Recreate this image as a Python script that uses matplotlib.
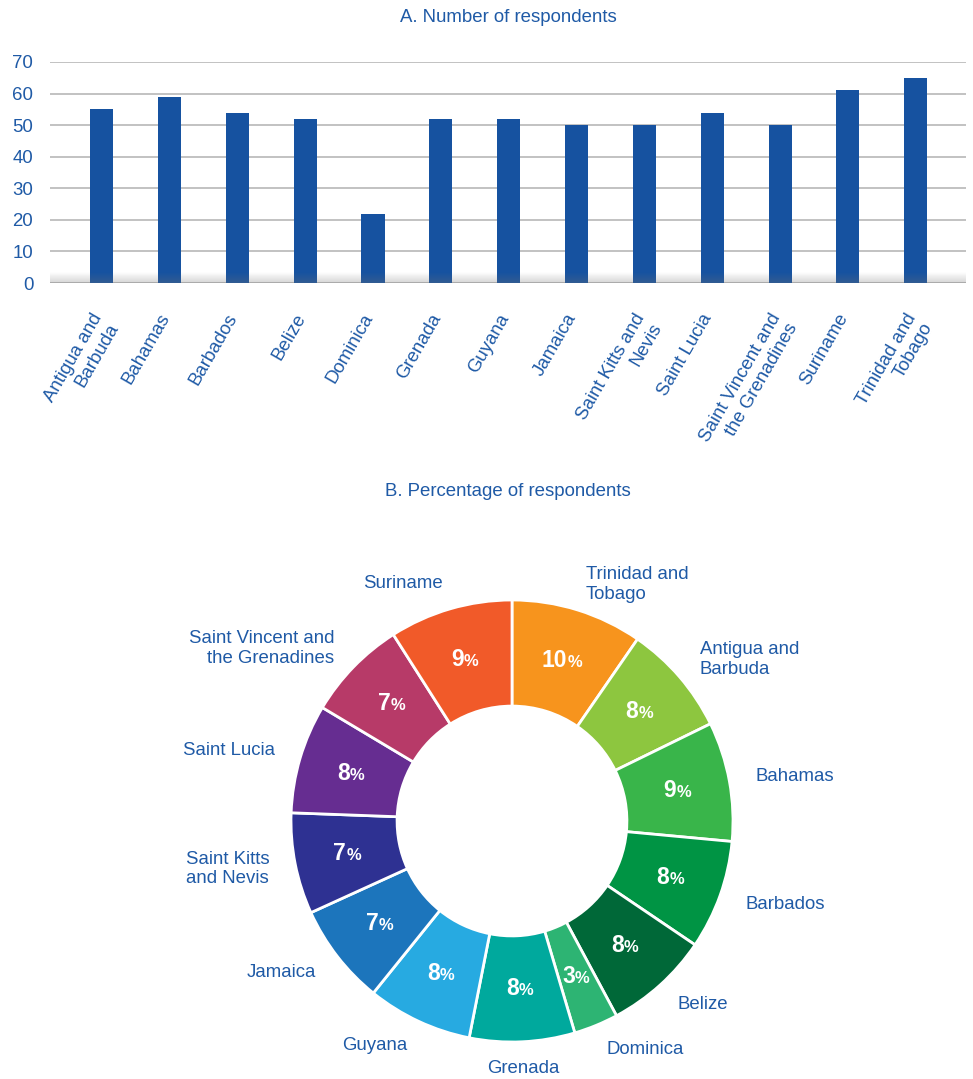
import numpy as np
import matplotlib.pyplot as plt
import matplotlib.transforms as mtransforms
from matplotlib.offsetbox import TextArea, HPacker, AnnotationBbox

plt.rcParams['font.family'] = ['Liberation Sans', 'DejaVu Sans']

# data
countries = ['Antigua and Barbuda', 'Bahamas', 'Barbados', 'Belize', 'Dominica',
             'Grenada', 'Guyana', 'Jamaica', 'Saint Kitts and Nevis', 'Saint Lucia',
             'Saint Vincent and the Grenadines', 'Suriname', 'Trinidad and Tobago']
bar_labels = ['Antigua and\nBarbuda', 'Bahamas', 'Barbados', 'Belize', 'Dominica',
              'Grenada', 'Guyana', 'Jamaica', 'Saint Kitts and\nNevis', 'Saint Lucia',
              'Saint Vincent and\nthe Grenadines', 'Suriname', 'Trinidad and\nTobago']
respondents = [55, 59, 54, 52, 22, 52, 52, 50, 50, 54, 50, 61, 65]
yticks = [0, 10, 20, 30, 40, 50, 60, 70]

# pie goes clockwise from the top, starting with Trinidad and Tobago
pie_order = [12, 0, 1, 2, 3, 4, 5, 6, 7, 8, 9, 10, 11]
pie_labels = ['Trinidad and\nTobago', 'Antigua and\nBarbuda', 'Bahamas', 'Barbados',
              'Belize', 'Dominica', 'Grenada', 'Guyana', 'Jamaica', 'Saint Kitts\nand Nevis',
              'Saint Lucia', 'Saint Vincent and\nthe Grenadines', 'Suriname']
pie_colors = ['#F7941D', '#8DC63F', '#39B54A', '#009444', '#006838', '#2DB473',
              '#00A99D', '#27AAE1', '#1C75BC', '#2E3192', '#662D91', '#B73A68', '#F15A29']

blue_txt = '#1F5AA6'
bar_col = '#1652A0'
fs = 13.4

fig = plt.figure(figsize=(9.73, 10.79), dpi=100)

# ---- A. bar chart ----
W, H = 973, 1079
ax = fig.add_axes([50 / W, 1 - 283 / H, 916 / W, 221 / H])
x = np.arange(len(respondents))
ax.bar(x, respondents, width=0.34, color=bar_col, zorder=3)
ax.set_yticks(yticks)
ax.yaxis.grid(True, color='#B8B8B8', linewidth=1.2, zorder=0)
ax.set_axisbelow(True)
for s in ax.spines.values():
    s.set_visible(False)
ax.tick_params(axis='y', length=0, pad=12, labelsize=fs, labelcolor=blue_txt)
ax.set_xticks(x)
ax.set_xticklabels(bar_labels, rotation=60, ha='right', va='top',
                   rotation_mode='anchor', multialignment='right',
                   fontsize=fs, color=blue_txt)
ax.tick_params(axis='x', length=0, pad=22)
shift = mtransforms.ScaledTranslation(-11 / 100, 3 / 100, fig.dpi_scale_trans)
for lbl in ax.get_xticklabels():
    lbl.set_transform(lbl.get_transform() + shift)

# soft shadow along the base
grad = np.linspace(0.3, 0, 50).reshape(-1, 1)
shade = np.zeros((50, 1, 4))
shade[..., :3] = 0.45
shade[..., 3] = grad
ax.imshow(shade, extent=[-0.76, 12.74, 0, 3.4], origin='lower', aspect='auto', zorder=4)
ax.set_xlim(-0.76, 12.74)
ax.set_ylim(0, 70)

fig.text(508 / W, 1 - 18 / H, 'A. Number of respondents', ha='center', va='center',
         fontsize=fs, color=blue_txt)

# ---- B. donut ----
fig.text(508 / W, 1 - 492 / H, 'B. Percentage of respondents', ha='center', va='center',
         fontsize=fs, color=blue_txt)

R = 221
ax2 = fig.add_axes([(512 - R) / W, 1 - (821 + R) / H, 2 * R / W, 2 * R / H])
pie_vals = [respondents[i] for i in pie_order]
total = sum(pie_vals)
wedges, _ = ax2.pie(pie_vals, colors=pie_colors, startangle=90, counterclock=False,
                    radius=1, wedgeprops=dict(width=0.48, edgecolor='white', linewidth=2))
ax2.set_xlim(-1, 1)
ax2.set_ylim(-1, 1)
ax2.set_aspect('equal')
ax2.axis('off')

for w, lab, v in zip(wedges, pie_labels, pie_vals):
    ang = np.deg2rad((w.theta1 + w.theta2) / 2)
    cx, cy = np.cos(ang), np.sin(ang)
    # percent inside ring
    pct = int(round(v / total * 100))
    num = TextArea(str(pct), textprops=dict(color='white', fontsize=16.5, fontweight='bold'))
    sign = TextArea('%', textprops=dict(color='white', fontsize=12, fontweight='bold'))
    pack = HPacker(children=[num, sign], align='baseline', pad=0, sep=0)
    ab = AnnotationBbox(pack, (0.76 * cx, 0.76 * cy), frameon=False, box_alignment=(0.5, 0.5))
    ax2.add_artist(ab)
    # country label outside
    lx, ly = 1.12 * cx, 1.12 * cy
    if lx > 0.1:
        ha = 'left'
    elif lx < -0.1:
        ha = 'right'
    else:
        ha = 'center'
    ax2.text(lx, ly, lab, ha=ha, va='center', multialignment=ha if ha != 'center' else 'center',
             fontsize=fs, color=blue_txt, clip_on=False)

fig.savefig('out.png', dpi=100)
